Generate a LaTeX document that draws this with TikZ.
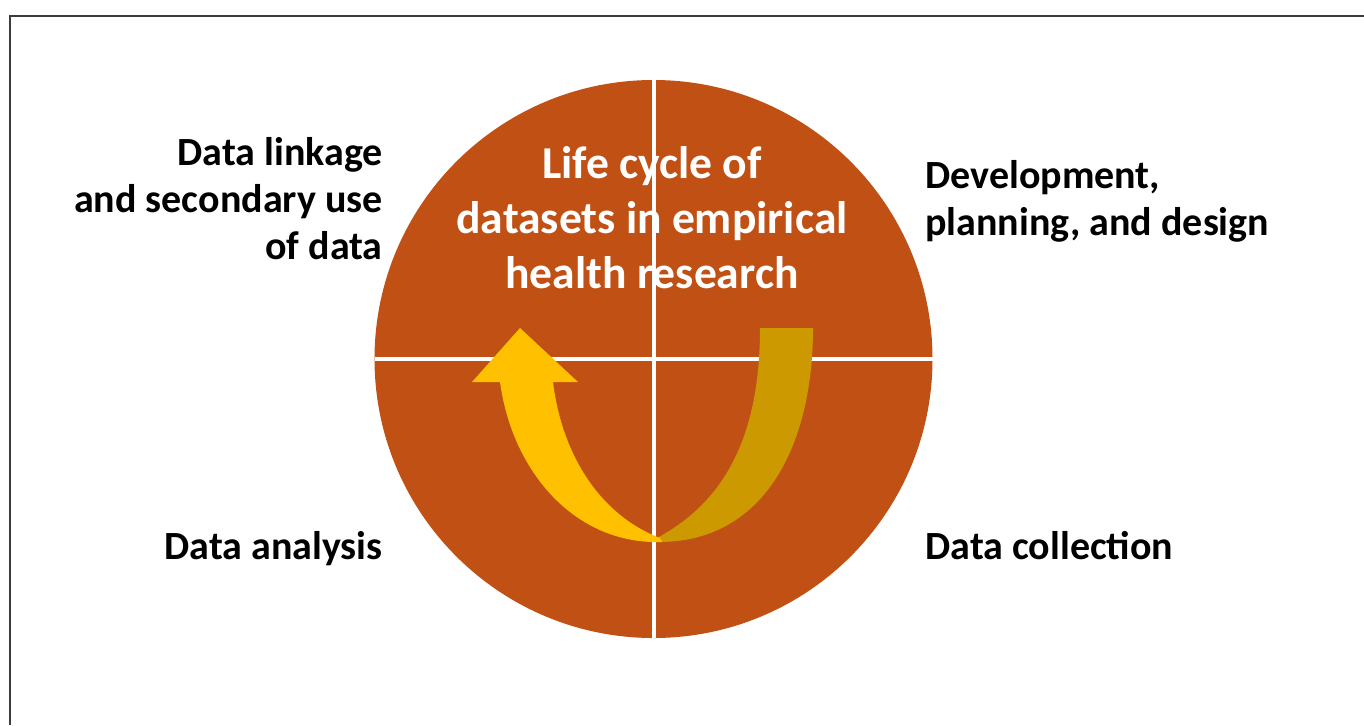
\documentclass[tikz,border=0pt]{standalone}
\usepackage{fontspec}
\setmainfont{Carlito}
\definecolor{disc}{RGB}{192,80,20}
\definecolor{goldlight}{RGB}{255,192,0}
\definecolor{golddark}{RGB}{204,153,0}
\definecolor{framegray}{RGB}{60,60,60}
\tikzset{
  outerlabel/.style={font=\fontsize{20}{23.5}\selectfont\bfseries, text=black, inner sep=0pt},
  innerlabel/.style={font=\fontsize{22.8}{27.5}\selectfont\bfseries, text=white, inner sep=0pt, align=center},
  divider/.style={draw=white, line width=2pt},
}
\begin{document}
\begin{tikzpicture}[x=0.5pt, y=-0.5pt]
  \useasboundingbox (0,0) rectangle (1364,725);
  % frame
  \draw[framegray, line width=1pt] (10,725) -- (10,16) -- (1364,16);
  % disc
  \coordinate (c) at (653.5,359);
  \fill[disc] (c) circle[radius=279];
  % title inside the disc (base = last line)
  \node[innerlabel, anchor=base] (title) at (652,288)
    {Life cycle of\\datasets in empirical\\health research};
  % quadrant dividers
  \coordinate (ctop) at (653.5,80);
  \coordinate (cbot) at (653.5,638);
  \coordinate (cleft) at (374.5,359);
  \coordinate (cright) at (932.5,359);
  \draw[divider] (ctop) -- (cbot);
  \draw[divider] (cleft) -- (cright);
  % right band of the U-turn arrow
  \fill[golddark] (760,328) -- (813,328)
    .. controls (813,445) and (765,540) .. (662,542)
    -- (653,540)
    .. controls (722,505) and (760,440) .. (760,328) -- cycle;
  % left band with arrowhead
  \fill[goldlight] (662,542) -- (653,542)
    .. controls (572,540) and (512,470) .. (500,382)
    -- (472,382) -- (520,328) -- (578,382) -- (553,382)
    .. controls (562,455) and (600,515) .. (660,538) -- cycle;
  % phase labels (base = last line)
  \node[outerlabel, anchor=base east, align=right] (linkage) at (383,259)
    {Data linkage\\and secondary use\\of data};
  \node[outerlabel, anchor=base west, align=left] (design) at (925,235)
    {Development,\\planning, and design};
  \node[outerlabel, anchor=base east] (analysis) at (383,559) {Data analysis};
  \node[outerlabel, anchor=base west] (collection) at (925,559) {Data collection};
\end{tikzpicture}
\end{document}
